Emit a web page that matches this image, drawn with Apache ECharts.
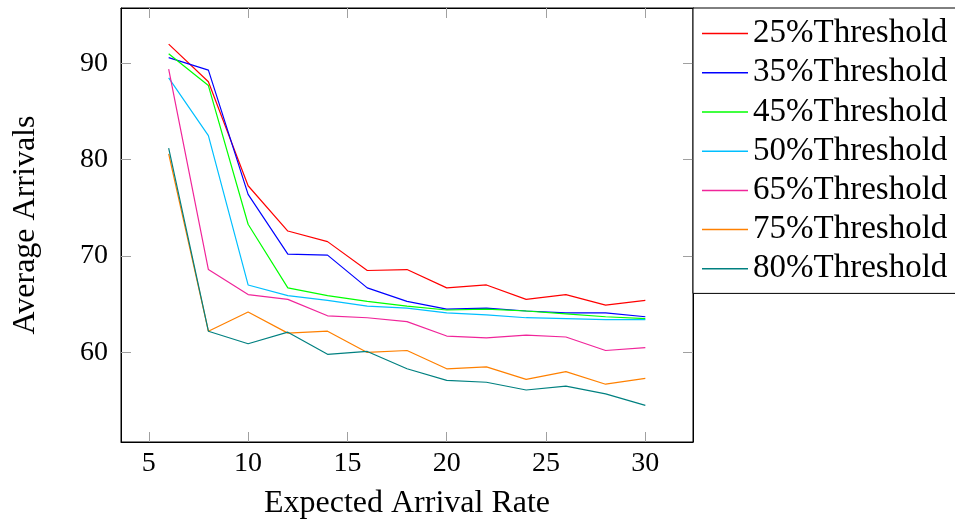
<!DOCTYPE html>
<html>
<head>
<meta charset="utf-8">
<script src="https://cdn.jsdelivr.net/npm/echarts@6/dist/echarts.min.js"></script>
<style>
html,body{margin:0;padding:0;background:#fff;}
#chart{width:955px;height:521px;}
</style>
</head>
<body>
<div id="chart"></div>
<script>
const rates = [6, 8, 10, 12, 14, 16, 18, 20, 22, 24, 26, 28, 30];
const seriesNames = ['25%Threshold', '35%Threshold', '45%Threshold', '50%Threshold', '65%Threshold', '75%Threshold', '80%Threshold'];
const t25 = [92.0, 88.1, 77.3, 72.6, 71.5, 68.5, 68.6, 66.7, 67.0, 65.5, 66.0, 64.9, 65.4];
const t35 = [90.6, 89.3, 76.4, 70.2, 70.1, 66.7, 65.3, 64.5, 64.6, 64.3, 64.1, 64.1, 63.7];
const t45 = [91.0, 87.7, 73.3, 66.7, 65.9, 65.3, 64.8, 64.4, 64.5, 64.3, 64.0, 63.7, 63.5];
const t50 = [88.5, 82.5, 67.0, 65.9, 65.4, 64.8, 64.6, 64.1, 63.9, 63.6, 63.5, 63.4, 63.4];
const t65 = [89.4, 68.6, 66.0, 65.5, 63.8, 63.6, 63.2, 61.7, 61.5, 61.8, 61.6, 60.2, 60.5];
const t75 = [80.6, 62.2, 64.2, 62.0, 62.2, 60.0, 60.2, 58.3, 58.5, 57.2, 58.0, 56.7, 57.3];
const t80 = [81.2, 62.2, 60.9, 62.1, 59.8, 60.1, 58.3, 57.1, 56.9, 56.1, 56.5, 55.7, 54.5];
const xTicks = [5, 10, 15, 20, 25, 30];
const yTicks = [60, 70, 80, 90];
const colors = ['#ff0000', '#0000ff', '#00ff00', '#00bfff', '#f0259a', '#ff8000', '#008080'];

const allValues = [t25, t35, t45, t50, t65, t75, t80];
const FONT = 'Liberation Serif';

function pairs(vals) { return rates.map((r, i) => [r, vals[i]]); }

const tickStyle = { show: true, inside: true, length: 10, lineStyle: { color: '#a0a0a0', width: 1 } };

const chart = echarts.init(document.getElementById('chart'), null, { renderer: 'canvas' });
chart.setOption({
  animation: false,
  backgroundColor: '#fff',
  color: colors,
  grid: { left: 121, right: 262, top: 8, bottom: 79, show: true, borderColor: '#000', borderWidth: 1, containLabel: false, outerBoundsMode: 'none' },
  legend: {
    orient: 'vertical',
    left: 693, top: 8,
    padding: [6, 30, 5, 9],
    itemWidth: 46, itemHeight: 1.5,
    itemGap: 0,
    icon: 'rect',
    borderColor: '#000', borderWidth: 1, borderRadius: 0,
    backgroundColor: '#fff',
    textStyle: { fontFamily: FONT, fontSize: 33, color: '#000', lineHeight: 39.2 },
    data: seriesNames
  },
  xAxis: [{
    type: 'value', min: 3.6, max: 32.4, position: 'bottom',
    name: 'Expected Arrival Rate', nameLocation: 'middle', nameGap: 46,
    nameTextStyle: { fontFamily: FONT, fontSize: 32, color: '#000' },
    axisLine: { show: true, lineStyle: { color: '#000' } },
    axisTick: Object.assign({ customValues: xTicks }, tickStyle),
    axisLabel: { customValues: xTicks, margin: 8, fontFamily: FONT, fontSize: 28, color: '#000' },
    splitLine: { show: false }
  }, {
    type: 'value', min: 3.6, max: 32.4, position: 'top',
    axisLine: { show: true, lineStyle: { color: '#000' } },
    axisTick: Object.assign({ customValues: xTicks }, tickStyle),
    axisLabel: { show: false },
    splitLine: { show: false }
  }],
  yAxis: [{
    type: 'value', min: 50.7, max: 95.75, position: 'left',
    name: 'Average Arrivals', nameLocation: 'middle', nameGap: 79,
    nameTextStyle: { fontFamily: FONT, fontSize: 32, color: '#000' },
    axisLine: { show: true, lineStyle: { color: '#000' } },
    axisTick: Object.assign({ customValues: yTicks }, tickStyle),
    axisLabel: { customValues: yTicks, margin: 13, fontFamily: FONT, fontSize: 28, color: '#000' },
    splitLine: { show: false }
  }, {
    type: 'value', min: 50.7, max: 95.75, position: 'right',
    axisLine: { show: true, lineStyle: { color: '#000' } },
    axisTick: Object.assign({ customValues: yTicks }, tickStyle),
    axisLabel: { show: false },
    splitLine: { show: false }
  }],
  series: seriesNames.map((n, i) => ({
    name: n, type: 'line', data: pairs(allValues[i]),
    xAxisIndex: 0, yAxisIndex: 0,
    symbol: 'none', showSymbol: false,
    lineStyle: { width: 1.2, color: colors[i] },
    itemStyle: { color: colors[i] }
  }))
});
</script>
</body>
</html>
